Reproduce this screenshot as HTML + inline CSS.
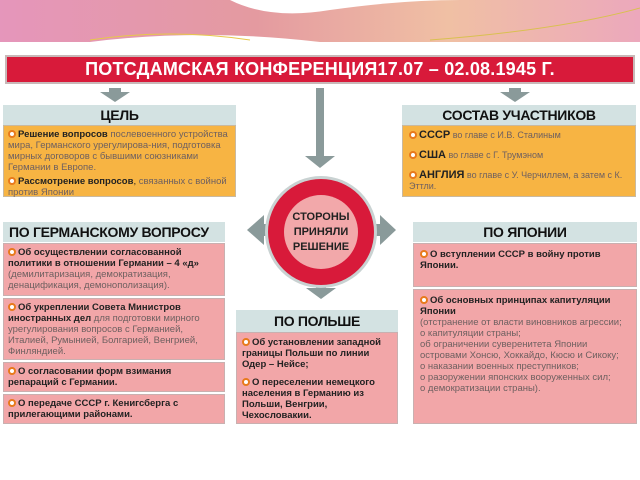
<!DOCTYPE html>
<html><head><meta charset="utf-8"><style>
*{margin:0;padding:0;box-sizing:border-box}
body{width:640px;height:480px;background:#fff;position:relative;overflow:hidden;font-family:"Liberation Sans Narrow","Liberation Sans",sans-serif}
.a{position:absolute}
.hd{position:absolute;background:#d3e2e2;font-weight:bold;color:#111;text-align:center;font-size:14px;line-height:20px;letter-spacing:-0.3px}
.or{position:absolute;background:#f7b443;border:1px solid #c9b9a0}
.pk{position:absolute;background:#f2a6a8;border:1px solid #c9b0b0;font-size:9.5px;line-height:11px;color:#222;padding:3px 4px}
.t{font-size:9.5px;line-height:11px;color:#222}
.l{color:#6e6060;font-weight:normal}
b{font-weight:bold}
.d{display:inline-block;width:8px;height:8px;border:2px solid #e87a1c;border-radius:50%;background:#fff;margin-right:2px;vertical-align:-1px}
</style></head><body>
<div class="a" style="left:0;top:0;width:640px;height:42px;background:linear-gradient(90deg,#e596bb 0%,#e49aa0 40%,#f0c0a4 70%,#eca8bc 100%)"></div>
<svg class="a" style="left:0;top:0" width="640" height="48"><path d="M0,42 L90,42 Q200,28 320,42 L640,42 L640,48 L0,48Z" fill="#fff"/><path d="M230,0 Q270,20 330,10 Q400,0 460,0Z" fill="#fff"/><path d="M90,40 Q170,28 250,40" stroke="#e6c84a" fill="none"/><path d="M430,40 Q560,30 640,8" stroke="#d9c050" fill="none"/></svg>
<div class="a" style="left:5px;top:55px;width:630px;height:29px;background:#d81a3a;border:2px solid #c8b8b8;color:#fff;font-weight:bold;font-size:18px;line-height:25px;text-align:center;letter-spacing:0.2px">ПОТСДАМСКАЯ КОНФЕРЕНЦИЯ17.07 – 02.08.1945 Г.</div>
<svg class="a" style="left:0;top:84px" width="640" height="230">
<g fill="#8a9a9a">
<rect x="109" y="4" width="12" height="5"/><polygon points="100,8 130,8 115,18"/>
<rect x="509" y="4" width="12" height="5"/><polygon points="500,8 530,8 515,18"/>
<rect x="316" y="4" width="8" height="70"/><polygon points="305,72 335,72 320,84"/>
<rect x="262" y="140" width="10" height="12"/><polygon points="264,131 264,161 247,146"/>
<rect x="372" y="140" width="10" height="12"/><polygon points="380,131 380,161 396,146"/>
<rect x="316" y="195" width="10" height="10"/><polygon points="306,204 336,204 321,215"/>
</g>
<circle cx="321" cy="148" r="56" fill="#c9d2d2"/><circle cx="321" cy="148" r="53" fill="#d81a3a"/><circle cx="321" cy="148" r="37" fill="#f2a8aa"/>
<text x="321" y="136" font-size="11" font-weight="bold" text-anchor="middle" font-family="Liberation Sans Narrow,Liberation Sans,sans-serif" fill="#222">СТОРОНЫ</text>
<text x="321" y="151" font-size="11" font-weight="bold" text-anchor="middle" font-family="Liberation Sans Narrow,Liberation Sans,sans-serif" fill="#222">ПРИНЯЛИ</text>
<text x="321" y="166" font-size="11" font-weight="bold" text-anchor="middle" font-family="Liberation Sans Narrow,Liberation Sans,sans-serif" fill="#222">РЕШЕНИЕ</text>
</svg>
<div class="hd" style="left:3px;top:105px;width:233px;height:20px">ЦЕЛЬ</div>
<div class="or" style="left:3px;top:125px;width:233px;height:72px;padding:3px 4px" ><div class="t"><span class="d"></span><b>Решение вопросов</b> <span class="l">послевоенного устройства мира, Германского урегулирова-ния, подготовка мирных договоров с бывшими союзниками Германии в Европе.</span></div><div class="t" style="margin-top:3px"><span class="d"></span><b>Рассмотрение вопросов</b>, <span class="l">связанных с войной против Японии</span></div></div>
<div class="hd" style="left:402px;top:105px;width:234px;height:20px">СОСТАВ УЧАСТНИКОВ</div>
<div class="or" style="left:402px;top:125px;width:234px;height:72px;padding:4px 6px"><div class="t" style="font-size:9px"><span class="d"></span><b style="font-size:11px">СССР</b> <span class="l">во главе с И.В. Сталиным</span></div><div class="t" style="margin-top:9px;font-size:9px"><span class="d"></span><b style="font-size:11px">США</b> <span class="l">во главе с Г. Трумэном</span></div><div class="t" style="margin-top:9px;font-size:9px"><span class="d"></span><b style="font-size:11px">АНГЛИЯ</b> <span class="l">во главе с У. Черчиллем, а затем с К. Эттли.</span></div></div>
<div class="hd" style="left:3px;top:222px;width:222px;height:20px;text-align:left;padding-left:6px">ПО ГЕРМАНСКОМУ ВОПРОСУ</div>
<div class="pk" style="left:3px;top:243px;width:222px;height:53px"><span class="d"></span><b>Об осуществлении согласованной политики в отношении Германии – 4 «д»</b> <span class="l">(демилитаризация, демократизация, денацификация, демонополизация).</span></div>
<div class="pk" style="left:3px;top:298px;width:222px;height:62px"><span class="d"></span><b>Об укреплении Совета Министров иностранных дел</b> <span class="l">для подготовки мирного урегулирования вопросов с Германией, Италией, Румынией, Болгарией, Венгрией, Финляндией.</span></div>
<div class="pk" style="left:3px;top:362px;width:222px;height:30px"><span class="d"></span><b>О согласовании форм взимания репараций с Германии.</b></div>
<div class="pk" style="left:3px;top:394px;width:222px;height:30px"><span class="d"></span><b>О передаче СССР г. Кенигсберга с прилегающими районами.</b></div>
<div class="hd" style="left:236px;top:310px;width:162px;height:22px;line-height:22px">ПО ПОЛЬШЕ</div>
<div class="pk" style="left:236px;top:332px;width:162px;height:92px;padding:4px 5px"><div><span class="d"></span><b>Об установлении западной границы Польши по линии Одер – Нейсе;</b></div><div style="margin-top:7px"><span class="d"></span><b>О переселении немецкого населения в Германию из Польши, Венгрии, Чехословакии.</b></div></div>
<div class="hd" style="left:413px;top:222px;width:224px;height:20px">ПО ЯПОНИИ</div>
<div class="pk" style="left:413px;top:243px;width:224px;height:44px;padding:5px 6px"><span class="d"></span><b>О вступлении СССР в войну против Японии.</b></div>
<div class="pk" style="left:413px;top:289px;width:224px;height:135px;padding:5px 6px"><span class="d"></span><b>Об основных принципах капитуляции Японии</b><br><span class="l">(отстранение от власти виновников агрессии;<br>о капитуляции страны;<br>об ограничении суверенитета Японии островами Хонсю, Хоккайдо, Кюсю и Сикоку;<br>о наказании военных преступников;<br>о разоружении японских вооруженных сил;<br>о демократизации страны).</span></div>
</body></html>
